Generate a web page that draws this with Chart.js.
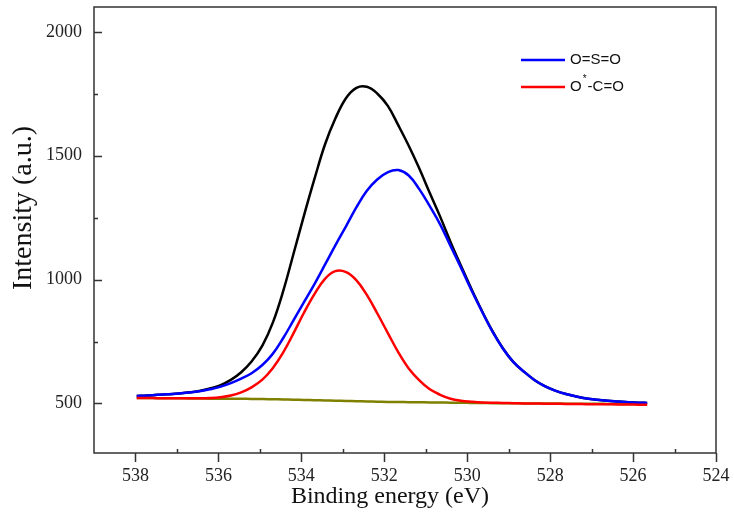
<!DOCTYPE html>
<html>
<head>
<meta charset="utf-8">
<script src="https://cdn.jsdelivr.net/npm/chart.js@4/dist/chart.umd.min.js"></script>
<style>
  body { margin: 0; background: #fff; }
</style>
</head>
<body>
<canvas id="xpsChart" width="734" height="521"></canvas>
<script>
// O 1s spectrum, binding energy (eV)
const energies = [537.97, 537.72, 537.47, 537.22, 536.96, 536.71, 536.46, 536.21, 535.96, 535.70,
  535.45, 535.20, 534.94, 534.69, 534.44, 534.19, 533.94, 533.68, 533.43, 533.18,
  532.92, 532.67, 532.42, 532.17, 531.91, 531.66, 531.41, 531.16, 530.91, 530.65,
  530.40, 530.15, 529.90, 529.64, 529.39, 529.14, 528.89, 528.63, 528.38, 528.13,
  527.88, 527.62, 527.37, 527.12, 526.87, 526.61, 526.36, 526.11, 525.86, 525.66];

// envelope (black)
const envelope = [530, 532, 535, 537, 540, 545, 550, 560, 573, 595,
  626, 669, 733, 825, 952, 1103, 1256, 1408, 1545, 1650,
  1733, 1774, 1778, 1751, 1700, 1622, 1540, 1450, 1352, 1253,
  1151, 1056, 963, 872, 792, 723, 668, 628, 595, 570,
  552, 538, 528, 520, 515, 511, 508, 505, 503, 502];

// O=S=O component (blue)
const osoPeak = [530, 532, 535, 537, 540, 544, 549, 557, 567, 582,
  600, 622, 655, 700, 763, 835, 908, 983, 1060, 1138,
  1216, 1292, 1358, 1404, 1434, 1442, 1420, 1366, 1298, 1222,
  1135, 1048, 958, 870, 790, 722, 668, 628, 595, 570,
  552, 538, 528, 520, 515, 511, 508, 505, 503, 502];

// O*-C=O component (red)
const ocoPeak = [522, 522, 521, 521, 521, 521, 521, 522, 525, 532,
  545, 565, 596, 642, 705, 783, 865, 942, 1003, 1034,
  1030, 997, 938, 864, 783, 706, 641, 594, 558, 535,
  519, 511, 507, 504, 503, 502, 501, 500, 500, 499,
  499, 498, 498, 497, 497, 497, 496, 496, 495, 495];

// background (olive)
const background = [522, 522, 521, 521, 521, 520, 520, 519, 519, 519,
  519, 518, 518, 517, 516, 515, 514, 513, 512, 511,
  510, 509, 508, 507, 506, 506, 505, 505, 504, 504,
  503, 503, 502, 502, 501, 501, 501, 500, 500, 500,
  500, 499, 499, 499, 499, 498, 498, 498, 498, 497];

const xTicks = [538, 536, 534, 532, 530, 528, 526, 524];
const xMinorTicks = [537, 535, 533, 531, 529, 527, 525];
const yTicks = [500, 1000, 1500, 2000];
const yMinorTicks = [750, 1250, 1750];
const legendLabels = ['O=S=O', 'O*-C=O'];
const xTitle = 'Binding energy (eV)';
const yTitle = 'Intensity (a.u.)';

function pts(vals) {
  return energies.map((e, i) => ({ x: e, y: vals[i] }));
}

const serif = '"Liberation Serif", "Times New Roman", serif';
const sans = '"Liberation Sans", Arial, sans-serif';

// frame, inward/outward ticks, legend and axis titles
const decor = {
  id: 'decor',
  afterDraw(chart) {
    const ctx = chart.ctx;
    const a = chart.chartArea;
    const x = chart.scales.x, y = chart.scales.y;
    ctx.save();
    ctx.strokeStyle = '#333';
    ctx.lineWidth = 1.5;
    ctx.strokeRect(a.left, a.top, a.right - a.left, a.bottom - a.top);

    ctx.beginPath();
    xTicks.forEach(v => {
      const px = Math.round(x.getPixelForValue(v)) + 0.5;
      ctx.moveTo(px, a.bottom); ctx.lineTo(px, a.bottom + 9);
    });
    xMinorTicks.forEach(v => {
      const px = Math.round(x.getPixelForValue(v)) + 0.5;
      ctx.moveTo(px, a.bottom); ctx.lineTo(px, a.bottom - 4);
    });
    yTicks.forEach(v => {
      const py = Math.round(y.getPixelForValue(v)) + 0.5;
      ctx.moveTo(a.left, py); ctx.lineTo(a.left + 8, py);
    });
    yMinorTicks.forEach(v => {
      const py = Math.round(y.getPixelForValue(v)) + 0.5;
      ctx.moveTo(a.left, py); ctx.lineTo(a.left + 4, py);
    });
    ctx.stroke();

    // legend
    const legColors = ['#0000ff', '#ff0000'];
    const legY = [60, 87];
    legendLabels.forEach((lab, i) => {
      ctx.strokeStyle = legColors[i];
      ctx.lineWidth = 2.5;
      ctx.beginPath();
      ctx.moveTo(521, legY[i]); ctx.lineTo(565, legY[i]);
      ctx.stroke();
      ctx.fillStyle = '#111';
      ctx.textBaseline = 'middle';
      ctx.textAlign = 'left';
      const parts = lab.split('*');
      let tx = 570;
      ctx.font = '15px ' + sans;
      ctx.fillText(parts[0], tx, legY[i]);
      tx += ctx.measureText(parts[0]).width;
      if (parts.length > 1) {
        ctx.font = '10px ' + sans;
        ctx.fillText('*', tx + 1, legY[i] - 8);
        tx += ctx.measureText('*').width + 2;
        ctx.font = '15px ' + sans;
        ctx.fillText(parts[1], tx, legY[i]);
      }
    });

    // axis titles
    ctx.fillStyle = '#111';
    ctx.textAlign = 'center';
    ctx.textBaseline = 'middle';
    ctx.font = '24px ' + serif;
    ctx.fillText(xTitle, 390, 497);
    ctx.font = '28px ' + serif;
    ctx.translate(24, 208);
    ctx.rotate(-Math.PI / 2);
    ctx.fillText(yTitle, 0, 0);
    ctx.restore();
  }
};

function noPad(s) {
  s.paddingTop = 0; s.paddingBottom = 0; s.paddingLeft = 0; s.paddingRight = 0;
}

const ctx = document.getElementById('xpsChart').getContext('2d');
const myChart = new Chart(ctx, {
  type: 'line',
  data: {
    datasets: [
      { label: 'O*-C=O', data: pts(ocoPeak), borderColor: '#ff0000', order: 0 },
      { label: 'O=S=O', data: pts(osoPeak), borderColor: '#0000ff', order: 1 },
      { label: 'Envelope', data: pts(envelope), borderColor: '#000000', order: 2 },
      { label: 'Background', data: pts(background), borderColor: '#808000', order: 3 }
    ]
  },
  options: {
    responsive: false,
    animation: false,
    parsing: false,
    layout: { autoPadding: false, padding: { top: 7, right: 18, left: 0, bottom: 0 } },
    elements: {
      point: { radius: 0 },
      line: { borderWidth: 2.5, tension: 0.4, fill: false }
    },
    plugins: {
      legend: { display: false },
      tooltip: { enabled: false }
    },
    scales: {
      x: {
        type: 'linear',
        reverse: true,
        min: 524,
        max: 539,
        afterBuildTicks: s => { s.ticks = xTicks.map(v => ({ value: v })); },
        afterFit: s => { s.height = 68; noPad(s); },
        grid: { display: false, drawTicks: false },
        border: { display: false },
        ticks: {
          padding: 12,
          color: '#222',
          maxRotation: 0,
          callback: v => String(v),
          font: { family: serif, size: 18 }
        }
      },
      y: {
        type: 'linear',
        min: 300,
        max: 2100,
        afterBuildTicks: s => { s.ticks = yTicks.map(v => ({ value: v })); },
        afterFit: s => { s.width = 94; noPad(s); },
        grid: { display: false, drawTicks: false },
        border: { display: false },
        ticks: {
          padding: 12,
          color: '#222',
          callback: v => String(v),
          font: { family: serif, size: 18 }
        }
      }
    }
  },
  plugins: [decor]
});
</script>
</body>
</html>
